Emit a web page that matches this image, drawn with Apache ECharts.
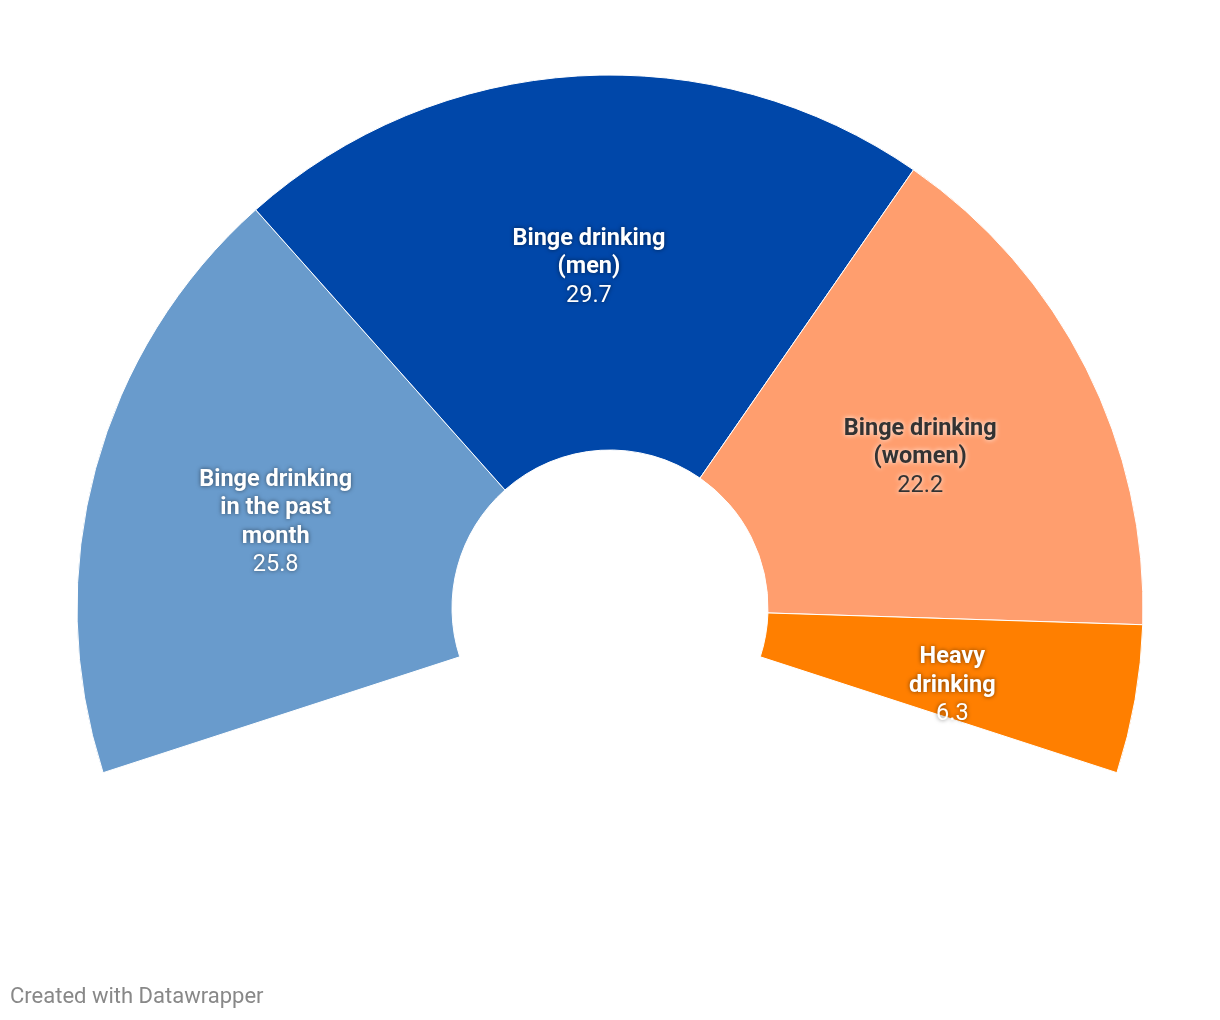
<!DOCTYPE html>
<html>
<head>
<meta charset="utf-8">
<script src="https://cdn.jsdelivr.net/npm/echarts@6/dist/echarts.min.js"></script>
<style>html,body{margin:0;padding:0;background:#fff}#c{width:1220px;height:1020px}</style>
</head>
<body>
<div id="c"></div>
<script>
const categories = ['Binge drinking\nin the past\nmonth', 'Binge drinking\n(men)', 'Binge drinking\n(women)', 'Heavy\ndrinking'];
const values = [25.8, 29.7, 22.2, 6.3];
const colors = ['#699bcc', '#0047a9', '#ff9e6e', '#ff7f00'];
const darkText = [false, false, true, false];
const labelOffsets = [[2, 6], [0, 7], [-1, 6], [-1, 18]];

const FS = 23.5, LH = 28.5;
const chart = echarts.init(document.getElementById('c'));
const data = categories.map((n, i) => ({
  name: n,
  value: values[i],
  itemStyle: { color: colors[i] },
  label: Object.assign({ offset: labelOffsets[i] }, darkText[i] ? {
    rich: {
      b: { fontFamily: 'Roboto', fontSize: FS, fontWeight: 700, color: '#333', lineHeight: LH, textShadowColor: 'rgba(255,255,255,0.9)', textShadowBlur: 5 },
      v: { fontFamily: 'Roboto', fontSize: FS, fontWeight: 400, color: '#333', lineHeight: LH, textShadowColor: 'rgba(255,255,255,0.9)', textShadowBlur: 5 }
    }
  } : {})
}));
chart.setOption({
  animation: false,
  series: [{
    type: 'pie',
    center: [610, 608],
    radius: [158, 533],
    startAngle: 198,
    endAngle: -18,
    clockwise: true,
    itemStyle: { borderColor: '#fff', borderWidth: 1 },
    label: {
      show: true,
      position: 'inside',
      formatter: p => '{b|' + p.name + '}\n{v|' + p.value + '}',
      rich: {
        b: { fontFamily: 'Roboto', fontSize: FS, fontWeight: 700, color: '#fff', lineHeight: LH, align: 'center', textShadowColor: 'rgba(0,0,0,0.55)', textShadowBlur: 4 },
        v: { fontFamily: 'Roboto', fontSize: FS, fontWeight: 400, color: '#fff', lineHeight: LH, align: 'center', textShadowColor: 'rgba(0,0,0,0.55)', textShadowBlur: 4 }
      }
    },
    labelLine: { show: false },
    emphasis: { disabled: true },
    data: data
  }],
  graphic: [{
    type: 'text', x: 10, y: 997,
    style: { text: 'Created with Datawrapper', fontFamily: 'Roboto', fontSize: 22, fill: '#888', verticalAlign: 'middle' }
  }]
});
</script>
</body>
</html>
